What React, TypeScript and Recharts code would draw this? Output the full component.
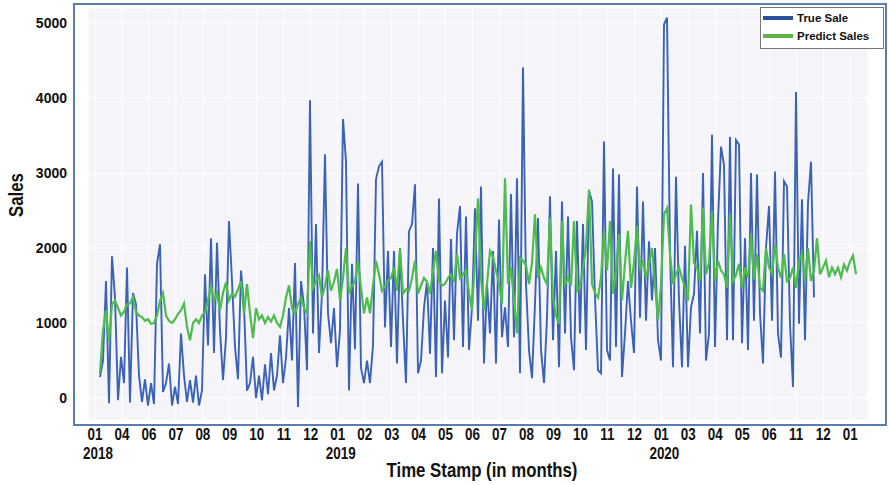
import { LineChart, Line, XAxis, YAxis, CartesianGrid, Legend, Label } from 'recharts';

// daily-ish samples
const trueSale = [
  280, 500, 1560, -70, 1890, 1340, -30, 550, 200, 1740,
  -60, 1400, 1250, 300, -50, 250, -100, 200, -80, 1790,
  2050, 80, 200, 460, -100, 150, -80, 860, 300, -50,
  240, -60, 300, -100, 100, 1650, 700, 2130, 600, 2070,
  900, 240, 800, 2360, 1560, 680, 250, 1700, 1230, 100,
  200, 550, 0, 300, -30, 450, 50, 600, 100, 300,
  835, 200, 540, 1200, 500, 1800, -120, 1560, 1230, 370,
  3970, 860, 2320, 600, 1400, 3250, 1130, 730, 1200, 410,
  900, 3720, 3150, 100, 1790, 650, 2860, 400, 200, 500,
  200, 700, 2920, 3090, 3150, 940, 1960, 680, 1960, 460,
  2000, 1030, 200, 2220, 2320, 2850, 330, 500, 1200, 1560,
  590, 2000, 280, 2660, 330, 1300, 540, 2120, 770, 2190,
  2560, 680, 2420, 640, 1200, 2530, 1030, 2820, 460, 1520,
  860, 1960, 460, 2380, 810, 1210, 680, 2720, 810, 2930,
  330, 4410, 1520, 640, 265, 1260, 2400, 640, 200, 1070,
  2690, 770, 1960, 410, 2620, 860, 2420, 810, 370, 2360,
  860, 2320, 640, 2760, 2620, 1340, 370, 330, 3420, 640,
  500, 3060, 680, 2980, 280, 860, 1560, 1030, 600, 2820,
  1070, 2620, 1030, 2090, 1300, 2000, 770, 500, 4980, 5070,
  1960, 410, 2950, 1300, 410, 2030, 410, 1210, 1390, 2230,
  860, 3000, 500, 860, 3510, 680, 2360, 3350, 3110, 770,
  3480, 770, 3440, 3380, 730, 2130, 640, 3000, 1030, 2980,
  1130, 460, 2000, 2560, 1030, 3020, 860, 540, 2890, 2820,
  990, 146, 4080, 990, 2650, 770, 2600, 3150, 1340,
];

const predictSales = [
  330, 900, 1170, 750, 1250, 1300, 1200, 1100, 1150, 1250,
  1260, 1350, 1150, 1100, 1080, 1030, 1050, 990, 1000, 1100,
  1300, 1400, 1100, 1030, 1000, 1050, 1120, 1170, 1260, 950,
  770, 1000, 1050, 1000, 1100, 1150, 1300, 1500, 1300, 1400,
  1170, 1400, 1540, 1300, 1390, 1350, 1450, 1560, 1130, 1520,
  1130, 800, 1200, 1050, 1100, 1000, 1080, 1020, 1100, 1000,
  950, 1100, 1340, 1500, 1200, 1130, 1250, 1340, 1200, 1130,
  2090, 1470, 1550, 1630, 1340, 1500, 1700, 1430, 1550, 1720,
  1300, 1600, 2000, 1390, 1500, 1550, 1830, 1470, 1130, 1340,
  1130, 1500, 1830, 1650, 1430, 1500, 1560, 1600, 1740, 1430,
  1990, 1390, 1450, 1430, 1600, 1830, 1390, 1500, 1600, 1550,
  1390, 1700, 1960, 1560, 1500, 1520, 1600, 1650, 1550, 1920,
  1600, 1650, 1700, 1400, 1170, 1870, 2660, 1600, 1170, 1520,
  1960, 1880, 1700, 1520, 1260, 2930, 1520, 1740, 1300, 860,
  1870, 1830, 1770, 1520, 1800, 2450, 1600, 1740, 1600, 1520,
  2400, 1340, 1100, 990, 2360, 1520, 1600, 1500, 2360, 1430,
  1500, 1740, 2000, 2780, 1520, 1400, 1340, 1600, 2230, 1700,
  2360, 1390, 1700, 2190, 1300, 1800, 2230, 1470, 1800, 2300,
  1700, 1830, 1600, 1800, 2000, 1520, 1030, 1500, 2450, 2530,
  1920, 1520, 1650, 1740, 1600, 1470, 1300, 2580, 1800, 1740,
  1560, 2540, 1650, 1800, 2490, 1560, 1830, 1700, 1650, 1470,
  2450, 1560, 1640, 1790, 1470, 1740, 1600, 2190, 1580, 1920,
  1470, 1430, 2000, 1740, 1660, 2050, 1740, 1600, 1920, 1560,
  1600, 1740, 1470, 1830, 1920, 1560, 2000, 1560, 1700, 2130, 1650, 1740,
  1830, 1610, 1740, 1650, 1740, 1610, 1780, 1700, 1820, 1900, 1650,
];

const tickMonths = ['01', '04', '06', '07', '08', '09', '10', '11', '12', '01', '02', '03', '04', '05', '06',
  '07', '08', '09', '10', '11', '12', '01', '03', '04', '05', '06', '11', '12', '01'];
const tickYears = ['2018', '', '', '', '', '', '', '', '', '2019', '', '', '', '', '', '', '', '', '', '', '',
  '2020', '', '', '', '', '', '', ''];
const yTicks = [0, 1000, 2000, 3000, 4000, 5000];

const FIRST_TICK = -1.67;
const TICK_STEP = 8.99;
const xTicks = tickMonths.map((_, k) => FIRST_TICK + k * TICK_STEP);

const data = predictSales.map((p, i) => ({
  idx: i,
  trueSale: i < trueSale.length ? trueSale[i] : null,
  predict: p,
}));

const sans = "'Liberation Sans', Arial, sans-serif";

// no narrow face installed: squeeze Liberation Sans horizontally instead
function NarrowText({ x, y, size, children, rotate = 0 }: any) {
  return (
    <text
      transform={`translate(${x},${y}) rotate(${rotate}) scale(0.84,1)`}
      textAnchor="middle"
      fontFamily={sans}
      fontWeight="bold"
      fontSize={size}
      fill="#111"
    >
      {children}
    </text>
  );
}

function MonthTick(props: any) {
  const { x, y, payload } = props;
  const k = Math.round((payload.value - FIRST_TICK) / TICK_STEP);
  return (
    <g>
      <NarrowText x={x} y={y + 13} size={16}>{tickMonths[k]}</NarrowText>
      {tickYears[k] ? <NarrowText x={x + 3} y={y + 32} size={16}>{tickYears[k]}</NarrowText> : null}
    </g>
  );
}

function LegendBox() {
  const row = (color: string, text: string) => (
    <div style={{ display: 'flex', alignItems: 'center', height: 18 }}>
      <div style={{ width: 30, height: 4, background: color, marginRight: 4 }} />
      <span style={{ fontFamily: sans, fontWeight: 'bold', fontSize: 11.5, color: '#111' }}>{text}</span>
    </div>
  );
  return (
    <div style={{ border: '1px solid #777', background: '#fff', padding: '1px 2px', width: 118, height: 38 }}>
      {row('#2c4f9e', 'True Sale')}
      {row('#5cb545', 'Predict Sales')}
    </div>
  );
}

export default function App() {
  return (
    <div style={{ position: 'absolute', left: 0, top: 0, width: 889, height: 485, background: '#fff' }}>
      <div style={{ position: 'absolute', left: 73, top: 3, width: 814, height: 423, border: '2px solid #5a7db0', boxSizing: 'border-box' }} />
      <LineChart width={889} height={485} data={data} margin={{ top: 8, right: 21, bottom: 0, left: 0 }}>
        <CartesianGrid fill="#f4f4f9" stroke="#ffffff" strokeWidth={1} />
        <XAxis
          dataKey="idx"
          type="number"
          domain={[-4, 256]}
          ticks={xTicks}
          interval={0}
          allowDataOverflow
          axisLine={false}
          tickLine={false}
          tickSize={0}
          tickMargin={7}
          height={65}
          tick={<MonthTick />}
        >
          <Label
            content={(p: any) => (
              <NarrowText x={p.viewBox.x + p.viewBox.width / 2 + 4} y={p.viewBox.y + 57} size={20}>
                Time Stamp (in months)
              </NarrowText>
            )}
          />
        </XAxis>
        <YAxis
          type="number"
          domain={[-293, 5200]}
          ticks={yTicks}
          allowDataOverflow
          axisLine={false}
          tickLine={false}
          tickSize={0}
          tickMargin={21}
          width={88}
          tick={{ fontFamily: sans, fontWeight: 'bold', fontSize: 14, fill: '#111' }}
        >
          <Label content={() => <NarrowText x={23} y={195} rotate={-90} size={20}>Sales</NarrowText>} />
        </YAxis>
        <Legend
          layout="horizontal"
          verticalAlign="middle"
          align="center"
          content={() => <LegendBox />}
          wrapperStyle={{ position: 'absolute', left: 760, top: 7, width: 124, height: 42 }}
        />
        <Line type="linear" dataKey="trueSale" stroke="#3b62b5" strokeWidth={1.9} dot={false} isAnimationActive={false} />
        <Line type="linear" dataKey="predict" stroke="#4dbb4d" strokeWidth={2.2} dot={false} isAnimationActive={false} />
      </LineChart>
    </div>
  );
}
